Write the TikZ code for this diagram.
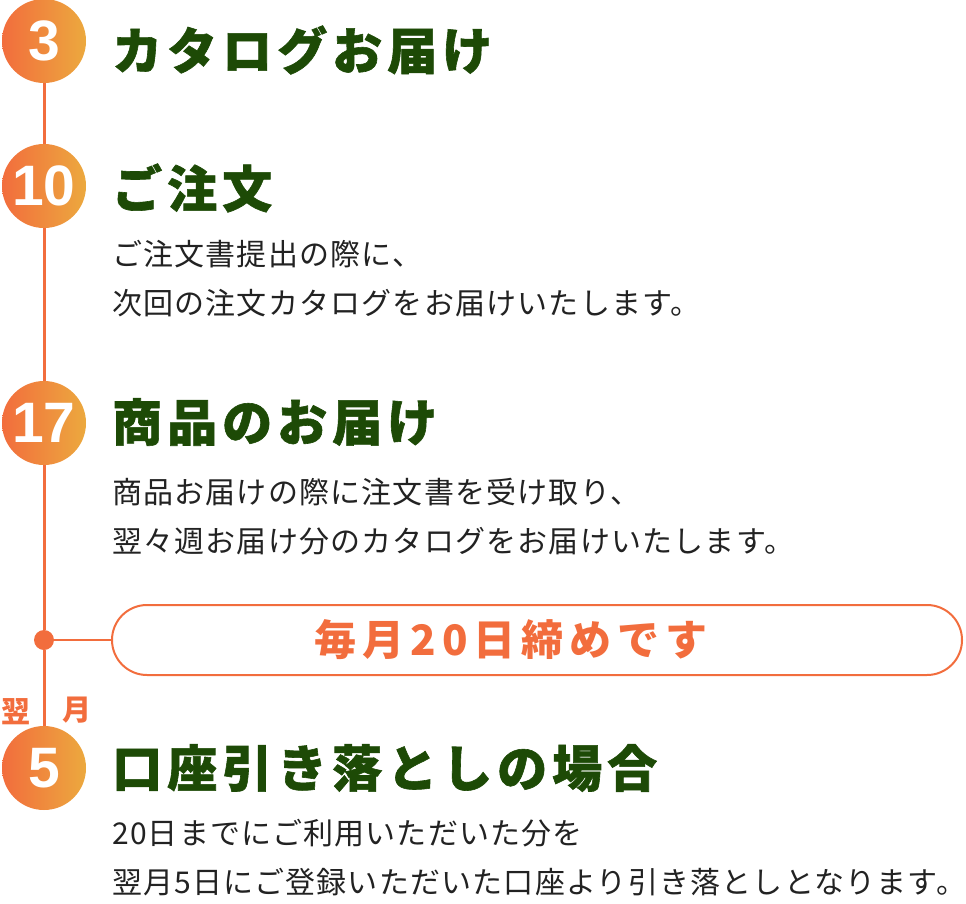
\documentclass[tikz,border=0pt]{standalone}
\usepackage{fontspec}
\newfontfamily\jp{Noto Sans CJK JP}
\newfontfamily\numfont{Liberation Sans}
\definecolor{accent}{HTML}{F26D3D}
\definecolor{accentlt}{HTML}{ECA93E}
\definecolor{leaf}{HTML}{1D4A06}
\definecolor{ink}{HTML}{222222}
\tikzset{
  num/.style={circle, minimum size=84, inner sep=0, left color=accent, right color=accentlt,
    text=white, font=\numfont\bfseries\fontsize{57}{57}\selectfont},
  joint/.style={circle, fill=accent, minimum size=20, inner sep=0},
  head/.style={anchor=west, inner sep=0, text=leaf,
    font=\jp\bfseries\fontsize{50}{50}\selectfont\addfontfeature{LetterSpace=10,FakeBold=1.2}},
  body/.style={anchor=west, inner sep=0, align=left, text=ink,
    font=\jp\fontsize{30}{49}\selectfont\addfontfeature{LetterSpace=4}},
  pill/.style={draw=accent, line width=2, rounded corners=35, minimum width=850, minimum height=70,
    text=accent, font=\jp\bfseries\fontsize{42}{42}\selectfont\addfontfeature{LetterSpace=14}},
  side/.style={inner sep=0, text=accent, font=\jp\bfseries\fontsize{29}{29}\selectfont},
  rail/.style={draw=accent, line width=3}
}
\begin{document}
\begin{tikzpicture}[x=1pt, y=-1pt]
\useasboundingbox (0,0) rectangle (966,904);
\node[num] (c3) at (44,41) {\raisebox{-4pt}{3}};
\node[num] (c10) at (44,186) {\raisebox{-4pt}{10}};
\node[num] (c17) at (44,423) {\raisebox{-4pt}{17}};
\node[num] (c5) at (44,768) {\raisebox{-4pt}{5}};
\node[joint] (mid) at (44,640) {};
\node[pill] (close) at (537,640) {\kern-52pt 毎月20日締めです};
\node[side] (next) at (16,712) {翌};
\node[side] (month) at (77,710) {月};

\node[head] (h3) at (112,50) {カタログお届け};
\node[head] (h10) at (112,188) {ご注文};
\node[head] (h17) at (112,422) {商品のお届け};
\node[head] (h5) at (112,768) {口座引き落としの場合};
\node[body] (b10) at (112,279) {ご注文書提出の際に、\\次回の注文カタログをお届けいたします。};
\node[body] (b17) at (112,517) {商品お届けの際に注文書を受け取り、\\翌々週お届け分のカタログをお届けいたします。};
\node[body] (b5) at (112,858) {20日までにご利用いただいた分を\\翌月5日にご登録いただいた口座より引き落としとなります。};

\foreach \p/\q in {c3/c10, c10/c17, c17/mid, mid/c5}
{\draw[rail] (\p) -- (\q);}
\draw[accent, line width=2] (mid) -- (close);

\end{tikzpicture}
\end{document}
